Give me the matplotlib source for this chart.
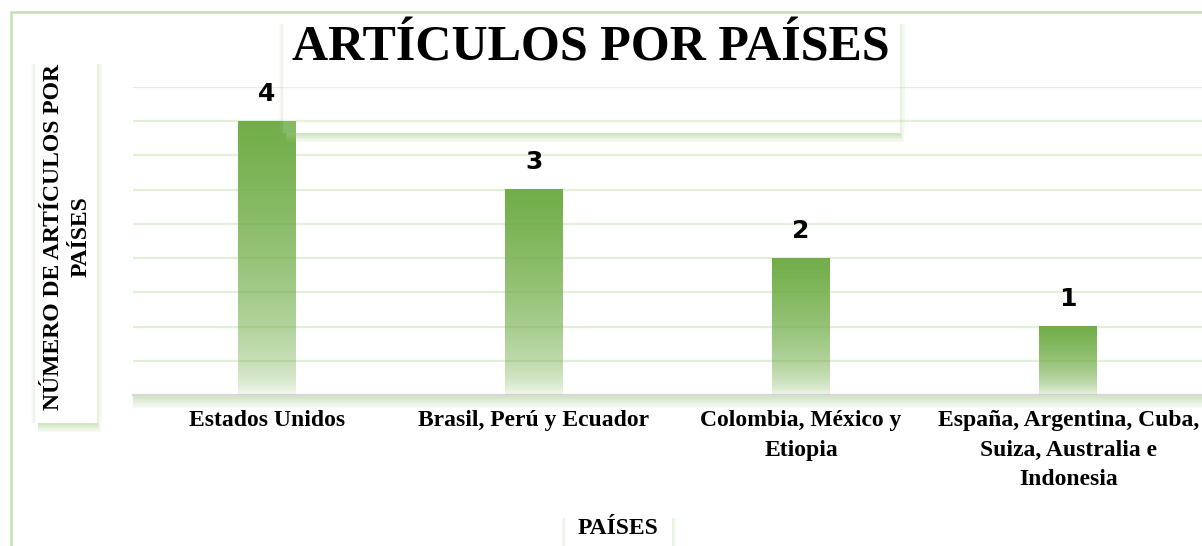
import numpy as np
import matplotlib.pyplot as plt
from matplotlib.patches import Rectangle

# datos del gráfico
paises = [
    "Estados Unidos",
    "Brasil, Perú y Ecuador",
    "Colombia, México y\nEtiopia",
    "España, Argentina, Cuba,\nSuiza, Australia e\nIndonesia",
]
articulos = [4, 3, 2, 1]

W, H = 1202, 546
VERDE = (0.44, 0.68, 0.28)
SOMBRA = "#a9d08e"
SERIF = "Liberation Serif"


def fx(x):
    return x / W


def fy(y):
    return 1 - y / H


def rect_px(x0, y0, x1, y1, **kw):
    fig.patches.append(Rectangle(
        (fx(x0), fy(y1)), fx(x1 - x0), fy(y0) - fy(y1),
        transform=fig.transFigure, edgecolor="none", **kw,
    ))


def caja(x0, y0, x1, y1, alpha=1.0, z=1):
    # caja blanca con sombra verde difusa abajo y a los lados
    rect_px(x0, y0, x1, y1, facecolor="white", alpha=alpha, zorder=z)
    for i in range(7):
        rect_px(x0 + 3, y1, x1 + i * 0.6, y1 + 1.5 + i * 1.2, facecolor=SOMBRA, alpha=0.09, zorder=z)
        rect_px(x1, y0 + 6, x1 + 1 + i * 0.7, y1, facecolor=SOMBRA, alpha=0.04, zorder=z)
        rect_px(x0 - 1 - i * 0.5, y0 + 6, x0, y1, facecolor=SOMBRA, alpha=0.03, zorder=z)


fig = plt.figure(figsize=(12.02, 5.46), dpi=100)

# borde exterior del gráfico
fig.patches.append(Rectangle(
    (fx(11), fy(560)), fx(1220), fy(12) - fy(560),
    transform=fig.transFigure, facecolor="none", edgecolor="#c5e0b4",
    linewidth=1.8, zorder=0,
))

ax = fig.add_axes([fx(133), fy(395), fx(1202) - fx(133), fy(87) - fy(395)])
ax.set_facecolor("white")

# sombra bajo el área de trazado
for i in range(8):
    rect_px(133, 396, 1202, 397 + 1.6 * i, facecolor=SOMBRA, alpha=0.08, zorder=-1)

x = np.arange(len(paises))
bars = ax.bar(x, articulos, width=0.217, color="none", edgecolor="none", zorder=3)

# relleno degradado de cada barra
n = 200
f = np.linspace(0, 1, n)
grad = np.zeros((n, 1, 4))
grad[:, 0, 0] = VERDE[0]
grad[:, 0, 1] = VERDE[1]
grad[:, 0, 2] = VERDE[2]
grad[:, 0, 3] = np.clip(f ** 0.45, 0.06, 1.0)
for b in bars:
    ax.imshow(grad, extent=[b.get_x(), b.get_x() + b.get_width(), 0, b.get_height()],
              origin="lower", aspect="auto", zorder=3, interpolation="bilinear")

ax.set_xlim(-0.5, 3.5)
ax.set_ylim(0, 4.5)
ax.set_yticks(np.arange(0, 4.51, 0.5))
ax.set_yticklabels([])
ax.yaxis.grid(True, color="#e2efd9", linewidth=1.6, zorder=1)
ax.set_axisbelow(True)
ax.tick_params(axis="both", length=0)
ax.tick_params(axis="x", pad=11)
for s in ["top", "right", "left"]:
    ax.spines[s].set_visible(False)
ax.spines["bottom"].set_color("#d9d9d9")
ax.spines["bottom"].set_linewidth(1.6)

ax.set_xticks(x)
ax.set_xticklabels(paises, fontfamily=SERIF, fontweight="bold", fontsize=17, linespacing=1.52)

ax.bar_label(bars, labels=[str(v) for v in articulos], padding=11,
             fontsize=18, fontweight="bold", family="DejaVu Sans", zorder=5)

# título en caja casi transparente
caja(283, 18, 900, 133, alpha=0.15, z=1)
fig.text(fx(591), fy(60), "ARTÍCULOS POR PAÍSES", ha="center", va="baseline",
         fontsize=36, fontweight="bold", family=SERIF)

# título del eje Y
caja(35, 58, 97, 423)
fig.text(fx(67.5), fy(237), "NÚMERO DE ARTÍCULOS POR\nPAÍSES", rotation=90,
         ha="center", va="center", multialignment="center", linespacing=1.42,
         fontsize=17, fontweight="bold", family=SERIF)

# título del eje X
caja(565, 512, 672, 560)
fig.text(fx(618), fy(534), "PAÍSES", ha="center", va="baseline",
         fontsize=17, fontweight="bold", family=SERIF)

fig.savefig("out.png", dpi=100)
